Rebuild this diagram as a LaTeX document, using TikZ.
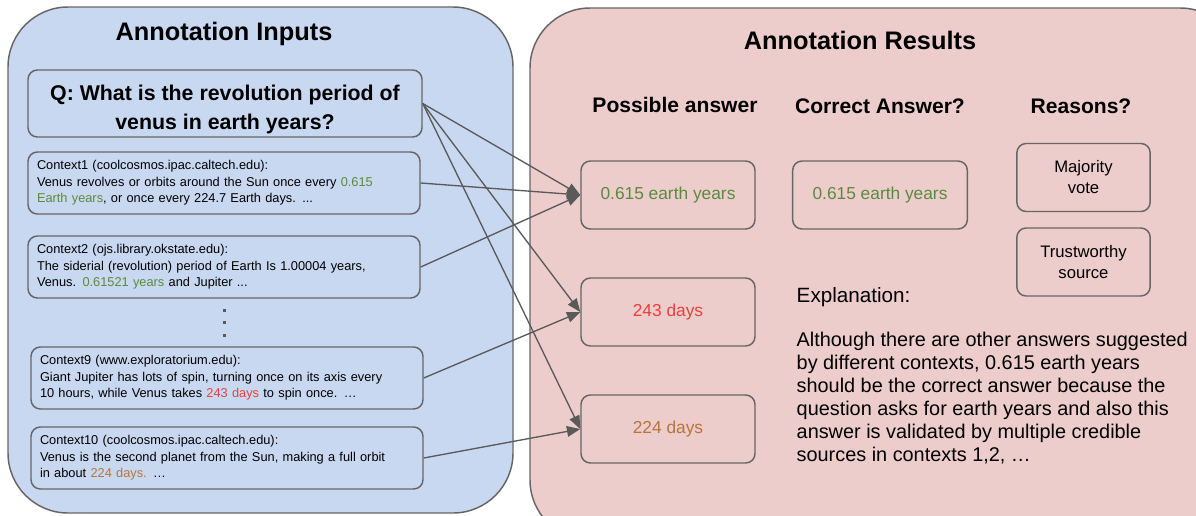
\documentclass[tikz,border=0pt]{standalone}
\usepackage{fontspec}
\setmainfont{Liberation Sans}
\usetikzlibrary{arrows.meta}
\definecolor{inblue}{HTML}{C9D8F1}
\definecolor{respink}{HTML}{EDCDCC}
\definecolor{edgegray}{HTML}{666666}
\definecolor{arrowgray}{HTML}{5A5A5A}
\definecolor{ansgreen}{HTML}{5A8A3C}
\definecolor{ansred}{HTML}{E8403A}
\definecolor{ansbrown}{HTML}{B7743C}
\begin{document}
\begin{tikzpicture}[x=0.75pt,y=-0.75pt,
    panel/.style={draw=edgegray,line width=1.1pt,rounded corners=45pt},
    box/.style={draw=edgegray,line width=1.1pt,rounded corners=7pt,inner sep=0pt},
    ctx/.style={box,text width=280.5pt,inner xsep=6.75pt,minimum height=46.5pt,align=left,font=\fontsize{9.6}{12.4}\selectfont},
    ans/.style={box,minimum width=130.5pt,minimum height=51pt,font=\fontsize{13}{15}\selectfont},
    why/.style={box,minimum width=100pt,minimum height=51pt,align=center,font=\fontsize{12.5}{15.75}\selectfont},
    head/.style={font=\bfseries\fontsize{15.8}{18}\selectfont},
    link/.style={draw=arrowgray,line width=1pt,-{Triangle[length=10pt,width=8pt]}}]
    \useasboundingbox (0,0) rectangle (1196,515);

    % the two panels
    \draw[panel,fill=inblue] (8,7) rectangle (513,513);
    \draw[panel,fill=respink] (530,8) rectangle (1240,540);

    \node[font=\bfseries\fontsize{19}{22}\selectfont] (intitle) at (224,34) {Annotation Inputs};
    \node[font=\bfseries\fontsize{19}{22}\selectfont] (restitle) at (860,40) {Annotation Results};

    % inputs
    \node[box,minimum width=295.5pt,minimum height=50.25pt,align=center,
          font=\bfseries\fontsize{16}{21.75}\selectfont] (q) at (225,103.5)
          {\rule{0pt}{20.5pt}Q: What is the revolution period of\\venus in earth years?};
    \node[ctx] (ctxa) at (224,183) {Context1 (coolcosmos.ipac.caltech.edu):\\
        Venus revolves or orbits around the Sun once every \textcolor{ansgreen}{0.615}\\
        \textcolor{ansgreen}{Earth years}, or once every 224.7 Earth days. ...};
    \node[ctx] (ctxb) at (224,267) {Context2 (ojs.library.okstate.edu):\\
        The siderial (revolution) period of Earth Is 1.00004 years,\\
        Venus. \textcolor{ansgreen}{0.61521 years} and Jupiter ...};
    \foreach \y in {310,322,335}
        \fill[arrowgray] (222.5,\y-1.5) rectangle ++(3,3);
    \node[ctx] (ctxi) at (227,378) {Context9 (www.exploratorium.edu):\\
        Giant Jupiter has lots of spin, turning once on its axis every\\
        10 hours, while Venus takes \textcolor{ansred}{243 days} to spin once. \dots};
    \node[ctx] (ctxj) at (227,458) {Context10 (coolcosmos.ipac.caltech.edu):\\
        Venus is the second planet from the Sun, making a full orbit\\
        in about \textcolor{ansbrown}{224 days.} \dots};

    % results
    \node[head] (hposs) at (675,105) {Possible answer};
    \node[head] (hcorr) at (880,106) {Correct Answer?};
    \node[head] (hwhy) at (1081,106) {Reasons?};

    \node[ans,text=ansgreen] (ansa) at (668,195) {0.615 earth years};
    \node[ans,text=ansred] (ansb) at (668,312) {243 days};
    \node[ans,text=ansbrown] (ansc) at (668,429) {224 days};
    \node[ans,text=ansgreen,minimum width=131pt] (correct) at (880,195) {0.615 earth years};
    \node[why] (vote) at (1083.5,177.5) {Majority\\vote};
    \node[why] (trust) at (1083.5,262) {Trustworthy\\source};

    \node[anchor=west,font=\fontsize{15.5}{18}\selectfont] (explhead) at (792,297) {Explanation:};
    \node[anchor=west,align=left,font=\fontsize{14.9}{17.25}\selectfont] (expl) at (792,398)
        {Although there are other answers suggested\\
         by different contexts, 0.615 earth years\\
         should be the correct answer because the\\
         question asks for earth years and also this\\
         answer is validated by multiple credible\\
         sources in contexts 1,2, \dots};

    % links
    \foreach \a/\b in {q/ansa,q/ansb,q/ansc,ctxa/ansa,ctxb/ansa,ctxi/ansb,ctxj/ansc}
        \draw[link] (\a.east) -- (\b.west);
\end{tikzpicture}
\end{document}
